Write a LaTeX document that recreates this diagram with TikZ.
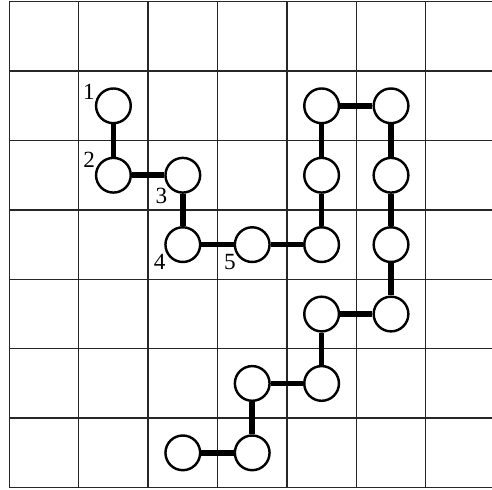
\documentclass[tikz,border=0pt]{standalone}
\usepackage{fontspec}
\setmainfont{Liberation Serif}
\usepackage{tikz}

\begin{document}
\begin{tikzpicture}
\tikzstyle{every node}=[font=\fontsize{9.5pt}{11pt}\selectfont]
\tikzstyle{cell}=[draw, circle, fill=white, line width=1pt, minimum size=0.5cm, inner sep=0pt]
\tikzstyle{num}=[anchor=center, inner sep=0pt]
\tikzstyle{link}=[line width=2.3pt]
\clip (-0.134,-0.025) rectangle (6.955,7.025);
\draw[black!85, line width=0.55pt] (0,0) grid (7,7);
\node[cell, label={[num, label distance=0.14cm]150:1}] (a1) at (1.5,5.5) {};
\node[cell, label={[num, label distance=0.15cm]147:2}] (a2) at (1.5,4.5) {};
\node[cell, label={[num, label distance=0.16cm]224:3}] (a3) at (2.5,4.5) {};
\node[cell, label={[num, label distance=0.15cm]217:4}] (a4) at (2.5,3.5) {};
\node[cell, label={[num, label distance=0.14cm]218:5}] (a5) at (3.5,3.5) {};
\node[cell] (a6) at (4.5,3.5) {};
\node[cell] (a7) at (4.5,4.5) {};
\node[cell] (a8) at (4.5,5.5) {};
\node[cell] (a9) at (5.5,5.5) {};
\node[cell] (a10) at (5.5,4.5) {};
\node[cell] (a11) at (5.5,3.5) {};
\node[cell] (a12) at (5.5,2.5) {};
\node[cell] (a13) at (4.5,2.5) {};
\node[cell] (a14) at (4.5,1.5) {};
\node[cell] (a15) at (3.5,1.5) {};
\node[cell] (a16) at (3.5,0.5) {};
\node[cell] (a17) at (2.5,0.5) {};
\foreach \i [evaluate=\i as \j using int(\i+1)] in {1,...,16}
  \draw[link] (a\i) -- (a\j);
\end{tikzpicture}
\end{document}
